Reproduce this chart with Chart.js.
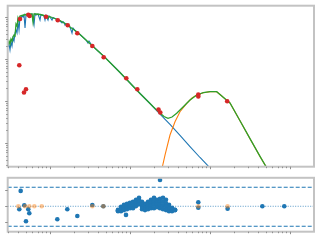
<!DOCTYPE html>
<html lang="en">
<head>
<meta charset="UTF-8">
<title>SED fit</title>
<script src="https://cdn.jsdelivr.net/npm/chart.js@4.4.1/dist/chart.umd.min.js"></script>
<style>
    html, body { margin: 0; padding: 0; background: #fff; }
    .wrap { position: relative; width: 320px; height: 240px; }
    #sedChart { position: absolute; left: 0; top: 0; }
    #residChart { position: absolute; left: 0; top: 172px; }
</style>
</head>
<body>
<div class="wrap">
    <canvas id="sedChart" width="320" height="172"></canvas>
    <canvas id="residChart" width="320" height="68"></canvas>
</div>
<script>
// stellar model spectrum (blue)
const starWave = [0.02985,0.03073,0.03162,0.03255,0.03350,0.03447,0.03548,0.03652,0.03758,0.03868,0.03981,0.04097,0.04217,0.04340,0.04467,0.04597,0.04732,0.04870,0.05012,0.05158,0.05309,0.05464,0.05623,
    0.05957,0.06310,0.06494,0.06683,0.07080,0.07499,0.07718,0.07943,0.08414,0.08660,0.08913,0.09441,0.09716,0.1000,
    0.1059,0.1090,0.1122,0.1189,0.1259,0.1334,0.1413,0.1454,0.1496,0.1540,0.1585,0.1679,0.1778,0.1884,0.1939,0.2054,
    0.2371,0.2818,0.2985,0.3073,0.3350,0.3981,0.4732,
    0.7499,1.334,1.778,2.371,3.162,4.217,5.623,7.499,10.59];
const starFlux = [193,228,164,254,204,316,268,416,490,416,760,490,1000,946,1056,1000,1116,547,1116,1116,1056,1147,1116,
    1179,645,1179,1116,1179,848,1147,1116,1056,848,1086,848,1056,1000,
    848,973,946,896,848,803,720,781,740,645,700,645,578,416,547,477,
    383,283,240,268,210,155,115,
    47.7,15.09,8.72,4.90,2.76,1.51,0.825,0.452,0.228];

// total model (green)
const totalWave = [0.02985,0.03073,0.03162,0.03255,0.03350,0.03447,0.03548,0.03652,0.03758,0.03868,0.03981,0.04097,0.04217,
    0.04467,0.04732,0.05012,0.05309,0.05623,0.05957,0.06131,0.06310,0.06683,0.07499,0.08414,0.09173,0.09441,0.09716,
    0.1059,0.1189,0.1334,0.1540,0.1778,0.2054,0.2371,0.2818,0.3350,0.3981,0.4732,
    0.7499,1.334,1.778,2.054,2.371,2.661,2.985,3.350,3.835,4.637,5.623,6.82,8.24,10.0,12.13,13.34,15.40,17.78,23.71,31.62,42.17,53.09];
const totalFlux = [215,268,228,299,268,334,373,353,681,611,946,803,1056,
    1086,1116,1147,1147,1179,1179,760,1179,1179,1147,1086,1056,946,1039,
    973,896,825,700,578,477,383,283,210,155,115,
    47.7,15.09,8.72,6.63,5.18,4.27,3.87,4.16,5.10,7.31,10.57,13.90,15.77,16.65,16.65,14.28,11.28,8.96,3.38,1.27,0.480,0.228];

// dust component (orange)
const dustWave = [2.441,2.534,2.738,3.162,3.652,4.217,5.115,5.957,6.82,8.24,10.0,12.13,13.34,15.40,17.78,23.71,31.62,42.17,53.09];
const dustFlux = [0.204,0.268,0.518,1.55,3.21,5.56,8.81,11.79,13.90,15.77,16.65,16.65,14.28,11.28,8.96,3.38,1.27,0.480,0.228];

// photometry (red)
const photWave = [0.04217,0.05355,0.05559,0.0891,0.125,0.1665,0.2195,0.338,0.469,0.899,1.234,2.271,2.391,7.14,7.14,16.4,0.0413,0.0473,0.0501];
const photFlux = [896,1128,1056,1016,834,634,409,204,110,34.7,19.0,6.28,5.32,14.3,12.8,9.84,70.8,15.9,19.0];

// residuals
const residWave = [0.0430,0.0413,0.0477,0.0535,0.0551,0.0501,0.1234,0.1645,0.2195,0.338,0.464,0.891,2.371,7.14,7.14,16.6,45.1,84.8];
const residVal = [0.96,-0.19,0.06,-0.19,-0.44,-0.94,-0.81,-0.19,-0.61,0.08,0.0,-0.54,1.64,0.25,-0.09,-0.15,0,0];
const limWave = [0.0402,0.0487,0.0551,0.0637,0.0788,0.338,0.464,7.14,16.6];
const limVal = [0,0,0,0,0,0,0,0,0];

// spectrum residuals (dense blob), four rows
const specWave = [0.708,0.772,0.841,0.917,1.0,1.090,1.189,1.296,1.413,1.540,1.679,1.830,1.995,2.175,2.371,2.585,2.818,3.072,3.350,3.652];
const specR1 = [-0.22,-0.03,0.09,0.16,0.22,0.28,0.41,0.53,0.28,0.16,0.28,0.41,0.53,0.41,0.47,0.53,0.41,0.09,-0.09,-0.22];
const specR2 = [-0.25,-0.12,-0.02,0.05,0.11,0.15,0.28,0.40,0.13,0.03,0.13,0.23,0.31,0.25,0.27,0.29,0.19,-0.04,-0.16,-0.23];
const specR3 = [-0.28,-0.22,-0.13,-0.07,-0.01,0.01,0.14,0.26,-0.03,-0.11,-0.03,0.06,0.10,0.10,0.08,0.06,-0.02,-0.18,-0.24,-0.23];
const specR4 = [-0.31,-0.31,-0.24,-0.18,-0.12,-0.12,0.01,0.13,-0.18,-0.24,-0.18,-0.12,-0.12,-0.06,-0.12,-0.18,-0.24,-0.31,-0.31,-0.24];

const dashLevels = [1.19, -1.25];
const zeroLevel = 0;
const residTicks = [-1, 0, 1];

const X_MIN = 0.02959, X_MAX = 199.5;
const Y_MIN = 0.2729, Y_MAX = 1858;
const R_MIN = -1.59, R_MAX = 1.78;

const BLUE = '#1f77b4', ORANGE = '#ff7f0e', GREEN = '#2ca02c', RED = '#d62728';

function pts(xs, ys) {
    return xs.map((x, i) => ({ x: x, y: ys[i] }));
}

function logTickValues(min, max) {
    const out = [];
    for (let e = Math.floor(Math.log10(min)); e <= Math.ceil(Math.log10(max)); e++) {
        for (let k = 1; k <= 9; k++) {
            const v = k * Math.pow(10, e);
            if (v >= min && v <= max) out.push({ v: v, major: k === 1 });
        }
    }
    return out;
}

// grey box + small outward ticks, no labels
const axesFrame = {
    id: 'axesFrame',
    afterDatasetsDraw(chart, args, opts) {
        const ctx = chart.ctx, a = chart.chartArea;
        const xs = chart.scales.x, ys = chart.scales.y;
        ctx.save();
        ctx.strokeStyle = '#c3c3c3';
        ctx.lineWidth = 2;
        ctx.strokeRect(a.left, a.top, a.right - a.left, a.bottom - a.top);

        ctx.strokeStyle = '#8f8f8f';
        ctx.lineWidth = 1;
        ctx.beginPath();
        logTickValues(xs.min, xs.max).forEach(t => {
            const p = Math.round(xs.getPixelForValue(t.v)) + 0.5;
            ctx.moveTo(p, a.bottom);
            ctx.lineTo(p, a.bottom + (t.major ? 2.5 : 1.5));
        });
        const yt = opts.yTicks ? opts.yTicks.map(v => ({ v: v, major: true })) : logTickValues(ys.min, ys.max);
        yt.forEach(t => {
            const p = Math.round(ys.getPixelForValue(t.v)) + 0.5;
            ctx.moveTo(a.left, p);
            ctx.lineTo(a.left - (t.major ? 2.5 : 1.5), p);
        });
        ctx.stroke();
        ctx.restore();
    }
};

const baseOpts = {
    responsive: false,
    animation: false,
    devicePixelRatio: 1,
    events: [],
    plugins: { legend: { display: false }, tooltip: { enabled: false } }
};

new Chart(document.getElementById('sedChart'), {
    type: 'scatter',
    data: {
        datasets: [
            { data: pts(photWave, photFlux), backgroundColor: RED, borderWidth: 0, pointRadius: 2.3, order: 0 },
            { data: pts(totalWave, totalFlux), showLine: true, borderColor: GREEN, borderWidth: 1.3, pointRadius: 0, order: 1 },
            { data: pts(dustWave, dustFlux), showLine: true, borderColor: ORANGE, borderWidth: 1.1, pointRadius: 0, order: 2 },
            { data: pts(starWave, starFlux), showLine: true, borderColor: BLUE, borderWidth: 1.1, pointRadius: 0, order: 3 }
        ]
    },
    options: Object.assign({}, baseOpts, {
        layout: { padding: { left: 7.7, right: 6, top: 5.7, bottom: 5.3 } },
        scales: {
            x: { type: 'logarithmic', min: X_MIN, max: X_MAX, display: false },
            y: { type: 'logarithmic', min: Y_MIN, max: Y_MAX, display: false }
        },
        plugins: Object.assign({}, baseOpts.plugins, { axesFrame: {} })
    }),
    plugins: [axesFrame]
});

const specPts = pts(specWave, specR1).concat(pts(specWave, specR2), pts(specWave, specR3), pts(specWave, specR4));

new Chart(document.getElementById('residChart'), {
    type: 'scatter',
    data: {
        datasets: [
            { data: pts(limWave, limVal), backgroundColor: 'rgba(255,127,14,0.45)', borderWidth: 0, pointRadius: 2.3, order: 0 },
            { data: pts(residWave, residVal), backgroundColor: BLUE, borderWidth: 0, pointRadius: 2.3, order: 1 },
            { data: specPts, backgroundColor: BLUE, borderWidth: 0, pointRadius: 2.3, order: 1 },
            { data: [{ x: X_MIN, y: zeroLevel }, { x: X_MAX, y: zeroLevel }], showLine: true, borderColor: 'rgba(31,119,180,0.75)',
              borderWidth: 1, borderDash: [1, 1.5], pointRadius: 0, order: 2 },
            { data: [{ x: X_MIN, y: dashLevels[0] }, { x: X_MAX, y: dashLevels[0] }], showLine: true, borderColor: BLUE,
              borderWidth: 1.1, borderDash: [4, 2], pointRadius: 0, order: 2 },
            { data: [{ x: X_MIN, y: dashLevels[1] }, { x: X_MAX, y: dashLevels[1] }], showLine: true, borderColor: BLUE,
              borderWidth: 1.1, borderDash: [4, 2], pointRadius: 0, order: 2 }
        ]
    },
    options: Object.assign({}, baseOpts, {
        layout: { padding: { left: 7.7, right: 6, top: 5.8, bottom: 8.3 } },
        scales: {
            x: { type: 'logarithmic', min: X_MIN, max: X_MAX, display: false },
            y: { type: 'linear', min: R_MIN, max: R_MAX, display: false }
        },
        plugins: Object.assign({}, baseOpts.plugins, { axesFrame: { yTicks: residTicks } })
    }),
    plugins: [axesFrame]
});
</script>
</body>
</html>
